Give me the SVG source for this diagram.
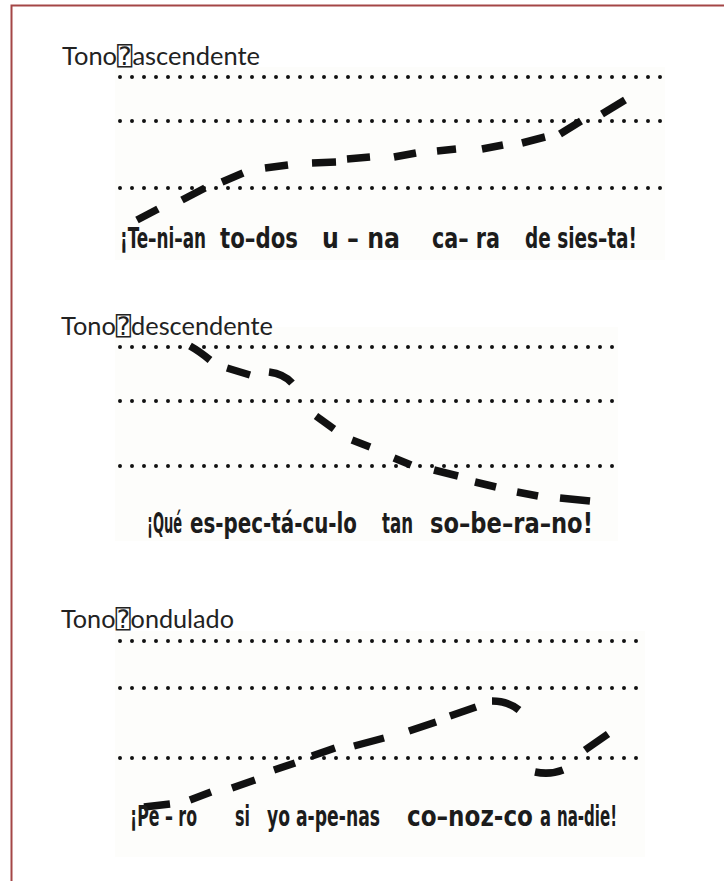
<svg xmlns="http://www.w3.org/2000/svg" width="724" height="881" viewBox="0 0 724 881">
<style>
.frame{fill:none;stroke:#a44646;stroke-width:2}
.scan{fill:#fdfdfb}
.title{font-family:Lato,"DejaVu Sans","DejaVu Sans Mono",sans-serif;font-size:25px;fill:#222}
.dots{stroke:#111;stroke-width:4;stroke-linecap:round;stroke-dasharray:0 12;fill:none}
.dash{stroke:#111;stroke-width:7.5;stroke-linecap:butt;fill:none}
.sent{font-family:"Liberation Sans Narrow","DejaVu Sans Condensed","Liberation Sans",sans-serif;font-weight:bold;font-size:28px;fill:#1c1c1c}
</style>
<rect width="724" height="881" fill="#ffffff"/>
<path class="frame" d="M11.5 881 V5.5 H724"/>

<g id="panel-ascendente">
  <rect class="scan" x="115" y="67" width="550" height="193"/>
  <text class="title" x="62" y="65" textLength="198" lengthAdjust="spacingAndGlyphs">Tono⍰ascendente</text>
  <line class="dots" x1="120" y1="77" x2="662" y2="77"/>
  <line class="dots" x1="120" y1="121" x2="662" y2="121"/>
  <line class="dots" x1="120" y1="188" x2="662" y2="188"/>
  <g id="contour-ascendente">
    <path class="dash" d="M137 220 L158 209"/>
    <path class="dash" d="M182 200 L205 188"/>
    <path class="dash" d="M222 182 L243 173"/>
    <path class="dash" d="M265 168 L288 165"/>
    <path class="dash" d="M312 163 L336 162"/>
    <path class="dash" d="M347 159 L370 157"/>
    <path class="dash" d="M394 157 L416 153"/>
    <path class="dash" d="M437 151 L456 149"/>
    <path class="dash" d="M482 149 L503 145"/>
    <path class="dash" d="M522 143 L545 137"/>
    <path class="dash" d="M560 134 L581 121"/>
    <path class="dash" d="M602 114 L625 100"/>
  </g>
  <text class="sent" x="120" y="248" textLength="86" lengthAdjust="spacingAndGlyphs">¡Te–ni–an</text>
  <text class="sent" x="220" y="248" textLength="78" lengthAdjust="spacingAndGlyphs">to–dos</text>
  <text class="sent" x="322" y="248" textLength="78" lengthAdjust="spacingAndGlyphs">u – na</text>
  <text class="sent" x="432" y="248" textLength="68" lengthAdjust="spacingAndGlyphs">ca– ra</text>
  <text class="sent" x="525" y="248" textLength="112" lengthAdjust="spacingAndGlyphs">de sies–ta!</text>
</g>

<g id="panel-descendente">
  <rect class="scan" x="115" y="327" width="503" height="214"/>
  <text class="title" x="61" y="335" textLength="212" lengthAdjust="spacingAndGlyphs">Tono⍰descendente</text>
  <line class="dots" x1="120" y1="347" x2="614" y2="347"/>
  <line class="dots" x1="120" y1="401" x2="614" y2="401"/>
  <line class="dots" x1="120" y1="466" x2="614" y2="466"/>
  <g id="contour-descendente">
    <path class="dash" d="M190 346 Q199 351 210 360"/>
    <path class="dash" d="M227 368 L250 375"/>
    <path class="dash" d="M269 372 Q284 374 292 383"/>
    <path class="dash" d="M316 416 L334 429"/>
    <path class="dash" d="M352 440 L370 447"/>
    <path class="dash" d="M394 458 L411 465"/>
    <path class="dash" d="M434 470 L458 476"/>
    <path class="dash" d="M475 482 L496 487"/>
    <path class="dash" d="M517 492 L538 496"/>
    <path class="dash" d="M560 498 L590 501"/>
  </g>
  <text class="sent" x="147" y="533" textLength="35" lengthAdjust="spacingAndGlyphs">¡Qué</text>
  <text class="sent" x="190" y="533" textLength="167" lengthAdjust="spacingAndGlyphs">es-pec-tá-cu-lo</text>
  <text class="sent" x="382" y="533" textLength="31" lengthAdjust="spacingAndGlyphs">tan</text>
  <text class="sent" x="430" y="533" textLength="163" lengthAdjust="spacingAndGlyphs">so–be–ra–no!</text>
</g>

<g id="panel-ondulado">
  <rect class="scan" x="115" y="631" width="530" height="226"/>
  <text class="title" x="61" y="628" textLength="173" lengthAdjust="spacingAndGlyphs">Tono⍰ondulado</text>
  <line class="dots" x1="120" y1="641" x2="642" y2="641"/>
  <line class="dots" x1="120" y1="688" x2="642" y2="688"/>
  <line class="dots" x1="120" y1="758" x2="642" y2="758"/>
  <g id="contour-ondulado">
    <path class="dash" d="M144 807 L170 804"/>
    <path class="dash" d="M190 800 L211 792"/>
    <path class="dash" d="M232 788 L255 780"/>
    <path class="dash" d="M274 770 L295 763"/>
    <path class="dash" d="M312 756 L335 748"/>
    <path class="dash" d="M354 746 L384 738"/>
    <path class="dash" d="M409 731 L436 722"/>
    <path class="dash" d="M450 716 L476 707"/>
    <path class="dash" d="M492 701 Q508 701 519 710"/>
    <path class="dash" d="M535 772 Q550 775 563 770"/>
    <path class="dash" d="M585 750 L608 734"/>
  </g>
  <text class="sent" x="130" y="826" textLength="67" lengthAdjust="spacingAndGlyphs">¡Pe – ro</text>
  <text class="sent" x="235" y="826" textLength="15" lengthAdjust="spacingAndGlyphs">si</text>
  <text class="sent" x="267" y="826" textLength="113" lengthAdjust="spacingAndGlyphs">yo a-pe-nas</text>
  <text class="sent" x="407" y="826" textLength="126" lengthAdjust="spacingAndGlyphs">co–noz-co</text>
  <text class="sent" x="540" y="826" textLength="11" lengthAdjust="spacingAndGlyphs">a</text>
  <text class="sent" x="557" y="826" textLength="60" lengthAdjust="spacingAndGlyphs">na-die!</text>
</g>
</svg>
